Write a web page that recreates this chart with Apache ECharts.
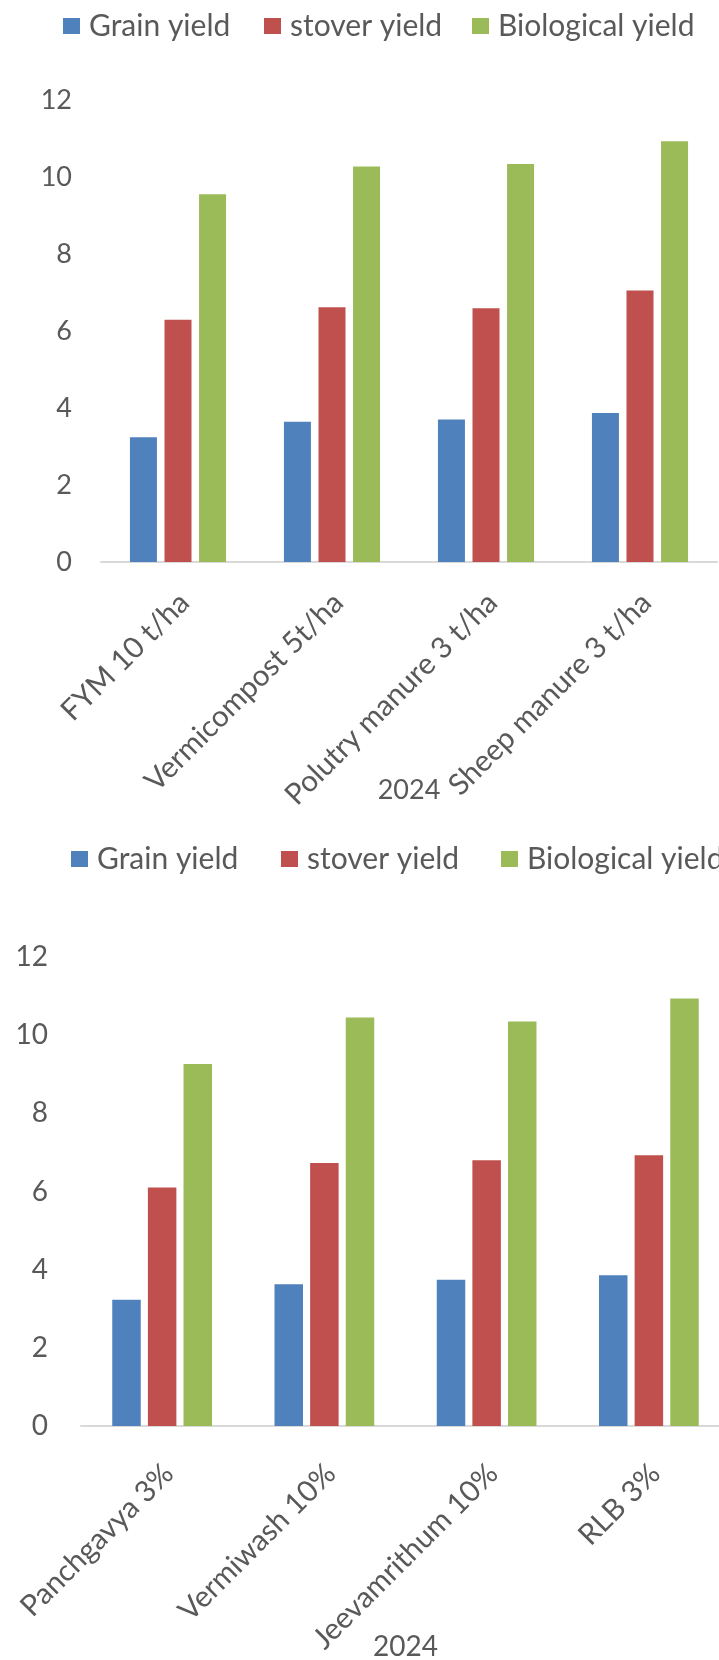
<!DOCTYPE html>
<html>
<head>
<meta charset="utf-8">
<script src="https://cdn.jsdelivr.net/npm/echarts@6/dist/echarts.min.js"></script>
<style>
  html, body { margin: 0; padding: 0; background: #fff; }
  #chart { width: 719px; height: 1660px; }
</style>
</head>
<body>
<div id="chart"></div>
<script>
// data
var seriesNames = ['Grain yield', 'stover yield', 'Biological yield'];
var colors = ['#4F81BD', '#C0504D', '#9BBB59'];

var manureCats = ['FYM 10 t/ha', 'Vermicompost 5t/ha', 'Polutry manure 3 t/ha', 'Sheep manure 3 t/ha'];
var manureGrain = [3.24, 3.64, 3.70, 3.87];
var manureStover = [6.29, 6.62, 6.59, 7.05];
var manureBio = [9.55, 10.27, 10.34, 10.93];

var liquidCats = ['Panchgavya 3%', 'Vermiwash 10%', 'Jeevamrithum 10%', 'RLB 3%'];
var liquidGrain = [3.23, 3.63, 3.74, 3.86];
var liquidStover = [6.10, 6.73, 6.80, 6.93];
var liquidBio = [9.26, 10.45, 10.35, 10.94];

var yearLabel = '2024';
var yTicks = { min: 0, max: 12, interval: 2 };

var font = 'Lato, "Open Sans", sans-serif';
var grey = '#595959';

var myChart = echarts.init(document.getElementById('chart'), null, { renderer: 'canvas' });

// one legend per item so every swatch sits where it does in the picture
function legends(top, lefts, size) {
    return seriesNames.map(function (n, i) {
        return {
            top: top, left: lefts[i],
            itemWidth: 17, itemHeight: 16,
            icon: 'rect',
            data: [n],
            textStyle: { color: grey, fontSize: size, fontFamily: font, padding: [0, 0, 0, 4] }
        };
    });
}

function xAxis(idx, cats, size, nameSize, gap, margin) {
    return {
        type: 'category', gridIndex: idx, data: cats,
        name: yearLabel, nameLocation: 'middle', nameGap: gap,
        nameMoveOverlap: false,
        nameTextStyle: { color: grey, fontSize: nameSize, fontFamily: font, verticalAlign: 'middle' },
        axisLine: { lineStyle: { color: '#D9D9D9', width: 2 } },
        axisTick: { show: false },
        axisLabel: {
            interval: 0, rotate: 45, margin: margin,
            align: 'right', verticalAlign: 'top', padding: [0, 6, 0, 0],
            color: grey, fontSize: size, fontFamily: font
        }
    };
}

function yAxis(idx, size, margin) {
    return {
        type: 'value', gridIndex: idx,
        min: yTicks.min, max: yTicks.max, interval: yTicks.interval,
        axisLine: { show: false }, axisTick: { show: false },
        splitLine: { show: false },
        axisLabel: { color: grey, fontSize: size, fontFamily: font, margin: margin }
    };
}

function bars(idx, values, width, gap) {
    return values.map(function (v, i) {
        return {
            name: seriesNames[i], type: 'bar',
            xAxisIndex: idx, yAxisIndex: idx,
            data: v, barWidth: width, barGap: gap,
            itemStyle: { color: colors[i] }
        };
    });
}

var option = {
    animation: false,
    legend: legends(6, [58, 259, 467], 30).concat(legends(839, [66, 276, 496], 30)),
    grid: [
        { left: 101, top: 100, width: 616, height: 462, outerBoundsMode: 'none' },
        { left: 81, top: 957, width: 649, height: 469, outerBoundsMode: 'none' }
    ],
    xAxis: [xAxis(0, manureCats, 29.5, 27, 228, 21), xAxis(1, liquidCats, 29.5, 28, 221, 28)],
    yAxis: [yAxis(0, 27, 29), yAxis(1, 28, 33)],
    series: bars(0, [manureGrain, manureStover, manureBio], 27, '28%')
        .concat(bars(1, [liquidGrain, liquidStover, liquidBio], 28.5, '25%'))
};

myChart.setOption(option);
</script>
</body>
</html>
